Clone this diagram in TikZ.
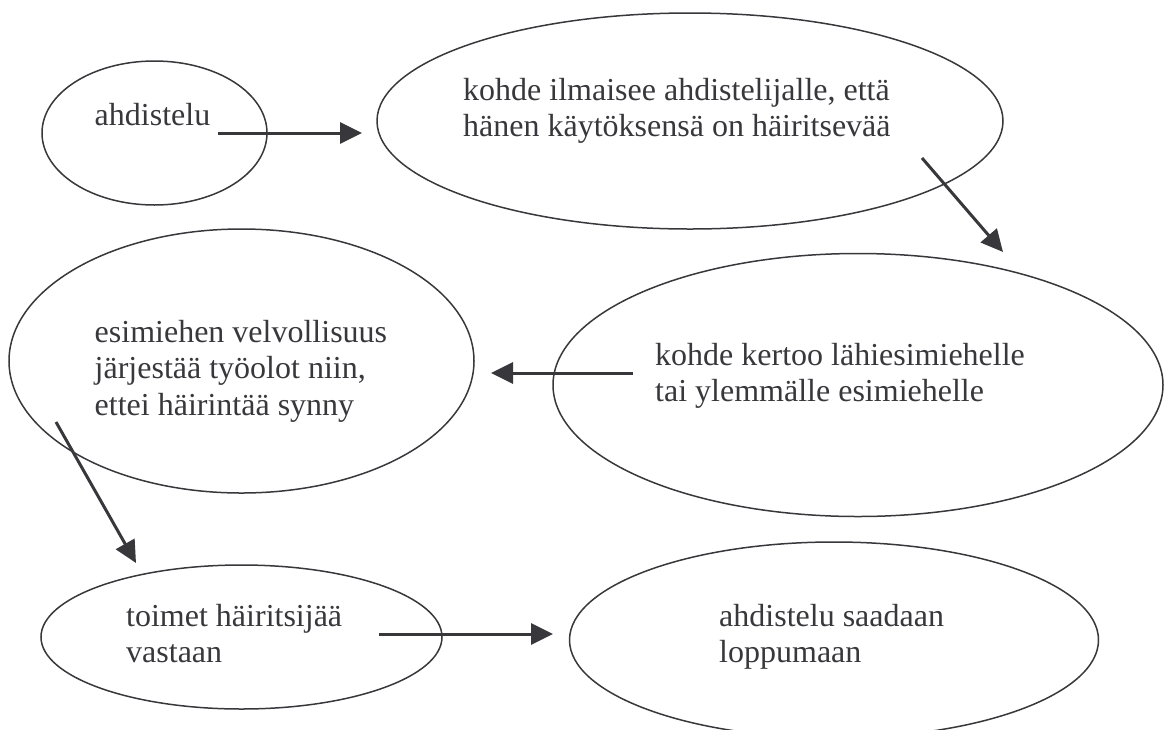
\documentclass[tikz,border=0pt]{standalone}
\usepackage{fontspec}
\setmainfont{Liberation Serif}
\usetikzlibrary{arrows.meta,shapes.geometric}
\definecolor{ink}{HTML}{38383C}
\newcommand\blk[1]{\begin{tabular}[t]{@{}l@{}}#1\end{tabular}}
\begin{document}
\begin{tikzpicture}[x=1pt,y=-1pt,
 bubble/.style={draw=ink,line width=1.5pt,ellipse,inner sep=0pt},
 txt/.style={anchor=base west,inner sep=0pt,text=ink,font=\fontsize{32}{36.8}\selectfont},
 flow/.style={draw=ink,line width=3pt,-{Triangle[length=22pt,width=21pt]}}]
\useasboundingbox (0,0) rectangle (1170,729);
\node[bubble,minimum width=225pt,minimum height=144pt] (e1) at (154.5,133) {};
\node[bubble,minimum width=626pt,minimum height=216pt] (e2) at (690,121) {};
\node[bubble,minimum width=610pt,minimum height=263pt] (e3) at (858,385) {};
\node[bubble,minimum width=465pt,minimum height=264pt] (e4) at (241.5,361) {};
\node[bubble,minimum width=401pt,minimum height=144pt] (e5) at (241.5,637) {};
\node[bubble,minimum width=529pt,minimum height=196pt] (e6) at (834,640) {};
\node[txt] (t1) at (94.5,125) {\blk{ahdistelu}};
\node[txt] (t2) at (463,100) {\blk{kohde ilmaisee ahdistelijalle, että\\hänen käytöksensä on häiritsevää}};
\node[txt] (t3) at (655,365) {\blk{kohde kertoo lähiesimiehelle\\tai ylemmälle esimiehelle}};
\node[txt] (t4) at (94.5,342) {\blk{esimiehen velvollisuus\\järjestää työolot niin,\\ettei häirintää synny}};
\node[txt] (t5) at (126,626) {\blk{toimet häiritsijää\\vastaan}};
\node[txt] (t6) at (719,626) {\blk{ahdistelu saadaan\\loppumaan}};
\coordinate (a1s) at (218,133); \coordinate (a1e) at (362,133);
\coordinate (a2s) at (922,158); \coordinate (a2e) at (1003,252);
\coordinate (a3s) at (633,373); \coordinate (a3e) at (491,373);
\coordinate (a4s) at (56,422);  \coordinate (a4e) at (136,563);
\coordinate (a5s) at (379,634); \coordinate (a5e) at (553,634);
\draw[flow] (a1s) -- (a1e);
\draw[flow] (a2s) -- (a2e);
\draw[flow] (a3s) -- (a3e);
\draw[flow] (a4s) -- (a4e);
\draw[flow] (a5s) -- (a5e);
\end{tikzpicture}
\end{document}
